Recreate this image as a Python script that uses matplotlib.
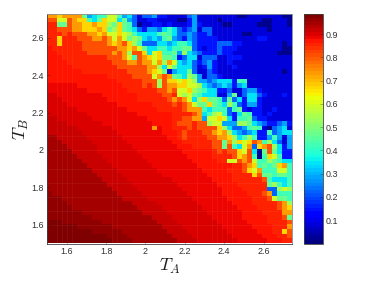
"""Heat map over T_A and T_B with a 64-level jet colour bar."""
import numpy as np
import matplotlib
matplotlib.use("Agg")
import matplotlib.pyplot as plt

plt.rcParams["font.family"] = ["Liberation Sans", "DejaVu Sans"]
plt.rcParams["mathtext.fontset"] = "cm"

# One character per cell; top row first, blocks of ten.
CELL_ROWS = [
    "bbabbbb745 6699645313 3422111134 1111111100 111111100",
    "cc99cbaa65 7a99574311 2211110024 1111011111 111001110",
    "dd77cbbaab aa87a76301 1221211124 2111100111 110001110",
    "ddcccbbaaa ba78a76532 4435653234 1331111111 111101111",
    "dddcdcccbb ab99a98655 5567653343 2231111110 011111111",
    "ddadddcccb bcb9b97875 4546743243 2222111111 112211111",
    "ddaddddccc ccbabca863 3355456653 2222333221 111111101",
    "eddddddccc ccccbbab97 5566566773 2122322211 111111100",
    "eeddddddcc cccbcb8cca 59a6674854 3222322111 111111000",
    "eeeddddddd ddcccb96cb a9a7762355 1333112221 111111111",
    "eeeedddddd dddcccbbcb b9b8b95453 2342112111 111111111",
    "eeeeeddddd ddddcccccc bb85975553 1242111211 111111111",
    "eeeeeeeddd ddddddcccc ba97145573 1132111111 111111101",
    "eeeeeeeeee eedddddccc c9bcb76587 4133211111 111111111",
    "eeeeeeeeee eeeedddddc cc8caa9a98 4434555266 111111111",
    "ffffffeeee eeeeeddddc dc8cbbaa99 8543454245 111111111",
    "ffffffffee eeeeeedddd ddccbc99a8 7655223113 442111111",
    "ggffffffff feeeeeeedd dddccd9897 6555114713 553211121",
    "gggfffffff ffeeeeeedd ddddcbcb95 8a77637352 552111111",
    "ggggffffff ffffeeeeee eddddcdcb9 77a7658632 442111111",
    "ggggggffff ffffffeeee eedddddcbb b656663672 122112111",
    "ggggggggff ffffffffee eeeeeddddc b568963257 622121111",
    "hhgggggggf ffffffffff eeeeeddccb b499a95266 732211111",
    "hhhhgggggg gfffffffff feeeedcccd cc89944488 754322342",
    "hhhhhhgggg gggfffffff fbfeedddcd cccca85334 676103451",
    "hhhhhhhggg ggggffffff fffeeedcdd dccbab8543 452263455",
    "iihhhhhhgg gggggfffff ffffeedcdd ddccbba856 862246414",
    "iiihhhhhhg ggggggffff fffffeeddd dddcc7b8a9 acb685314",
    "iiiihhhhhh gggggggfff ffffffeeed dddcc7c659 b3abc8524",
    "iiiiihhhhh ggggggggff fffffffeee eeedcdcca9 c507c7522",
    "iiiiiihhhh hggggggggf ffffffffee eeeddddcab c606a9622",
    "iiiiiiihhh hhgggggggg fffffffffe eeeedd99cb c96687655",
    "jiiiiiiihh hhhggggggg gfffffffff eeeeeeeddc ba6767ab6",
    "jjiiiiiiih hhhhgggggg ggffffffff feeeeedddc a9b666996",
    "jjjiiiiiii hhhhhggggg gggfffffff ffeeeeeddd dac776776",
    "jjjjiiiiii ihhhhhgggg gggggfffff fffeeeeddd dddc65556",
    "jjjjjiiiii iihhhhhggg ggggggffff ffffeeeedd dddd78656",
    "jjjjjjjiii iiihhhhhgg gggggggfff fffffeeeed dddd33898",
    "kjjjjjjjji iiiihhhhhg ggggggggff fffffeeeee dddcb3666",
    "kkkjjjjjjj jiiiihhhhh gggggggggf ffffffeeee edddc9776",
    "kkkkjjjjjj jjiiiiihhh hhgggggggg fffffffeee edddddcb8",
    "kkkkkjjjjj jjjiiiiihh hhhggggggg gfffffffee eeddddcba",
    "kkkkkkkjjj jjjjjiiiih hhhhgggggg ggfffffffe eeeddddbb",
    "kkkkkkkkkj jjjjjjiiii ihhhhggggg gggffffffe eeeedddc7",
    "lllkkkkkkk kjjjjjjjii iihhhhgggg ggggffffff eeeeddddc",
    "llllllkkkk kkkjjjjjji iiihhhhggg gggggfffff feeeedddb",
    "lllllllllk kkkkkjjjjj jiiihhhhgg ggggggffff ffeeeddac",
    "llllllllll llkkkkjjjj jjiiihhhhg gggggggfff fffeeeddc",
    "llllllllll lllkkkkjjj jjjiiihhhh ggggggggff ffffeeedd",
]
LEVEL_CODES = list("0123456789abcdefghijkl")
LEVEL_VALUES = [0.03, 0.09, 0.15, 0.22, 0.29, 0.35, 0.42, 0.47, 0.53, 0.60, 0.67,
                0.73, 0.81, 0.855, 0.878, 0.894, 0.909, 0.925, 0.941, 0.956, 0.971, 0.985]

TICKS = [1.6, 1.8, 2.0, 2.2, 2.4, 2.6]
TICK_LABELS = ["1.6", "1.8", "2", "2.2", "2.4", "2.6"]
BAR_TICKS = [0.1, 0.2, 0.3, 0.4, 0.5, 0.6, 0.7, 0.8, 0.9]
BAR_LABELS = ["0.1", "0.2", "0.3", "0.4", "0.5", "0.6", "0.7", "0.8", "0.9"]

# Faint lighter seams in the picture, given as cell edges.
SEAM_COLS = [2, 3, 4, 5, 13, 14, 30, 33, 34, 35, 36, 37]
SEAM_ROWS = [26, 29, 33, 36, 39, 42, 45]

T_MIN = 1.5
T_X_MAX = 2.744
T_Y_MAX = 2.727
V_MAX = 0.987
TEXT_COLOUR = "#303030"
W, H = 374, 281


def decode_cells():
    lookup = dict(zip(LEVEL_CODES, LEVEL_VALUES))
    rows = [r.replace(" ", "") for r in CELL_ROWS]
    for i, r in enumerate(rows):
        assert len(r) == 49, f"row {i} has {len(r)} cells"
    return np.array([[lookup[ch] for ch in r] for r in rows])


def main():
    cells = decode_cells()
    n_rows, n_cols = cells.shape
    cmap = plt.get_cmap("jet", 64)

    fig = plt.figure(figsize=(W / 100, H / 100), dpi=100)
    ax = fig.add_axes([47 / W, 1 - 243.5 / H, 245 / W, 229.5 / H])
    im = ax.imshow(
        cells, cmap=cmap, vmin=0, vmax=V_MAX, aspect="auto", interpolation="nearest",
        extent=[T_MIN, T_X_MAX, T_MIN, T_Y_MAX],
    )

    dx = (T_X_MAX - T_MIN) / n_cols
    dy = (T_Y_MAX - T_MIN) / n_rows
    for col in SEAM_COLS:
        ax.axvline(T_MIN + col * dx, color="white", linewidth=0.5, alpha=0.07)
    for row in SEAM_ROWS:
        ax.axhline(T_Y_MAX - row * dy, color="white", linewidth=0.5, alpha=0.07)

    ax.set_xticks(TICKS, TICK_LABELS)
    ax.set_yticks(TICKS, TICK_LABELS)
    ax.tick_params(direction="in", length=2, width=0.5, labelsize=6.4, pad=2.2,
                   color="#00000060", labelcolor=TEXT_COLOUR)
    ax.set_xlabel(r"$T_A$", fontsize=13, labelpad=1, color="#202020")
    ax.set_ylabel(r"$T_B$", fontsize=13, labelpad=0, color="#202020")
    for side, colour in zip(("left", "bottom", "top", "right"),
                            ("#404040", "#404040", "#909090", "#808090")):
        ax.spines[side].set_color(colour)
        ax.spines[side].set_linewidth(0.6)

    cax = fig.add_axes([304.3 / W, 1 - 243.5 / H, 18.4 / W, 229.5 / H])
    bar = fig.colorbar(im, cax=cax)
    bar.set_ticks(BAR_TICKS, labels=BAR_LABELS)
    bar.ax.tick_params(direction="in", length=2, width=0.5, labelsize=6.4, pad=2,
                       color="#00000060", labelcolor=TEXT_COLOUR)
    bar.outline.set_edgecolor("#404040")
    bar.outline.set_linewidth(0.6)

    fig.savefig("out.png", dpi=100)


if __name__ == "__main__":
    main()
